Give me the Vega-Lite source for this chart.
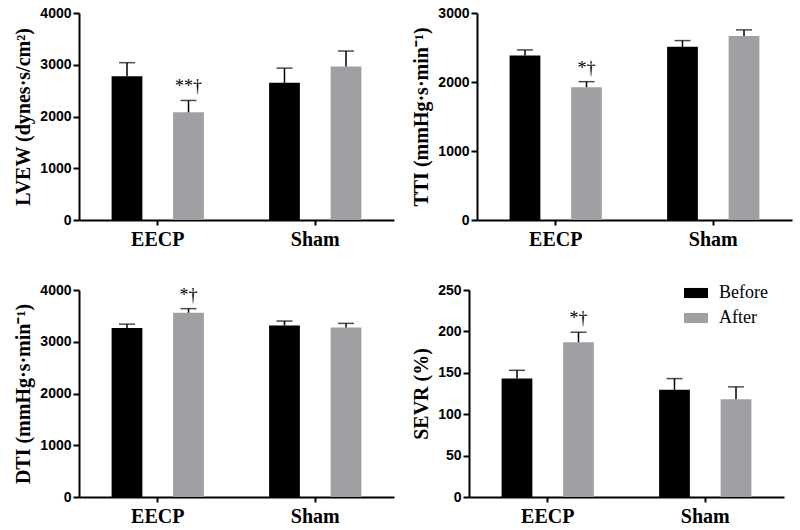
{
  "$schema": "https://vega.github.io/schema/vega-lite/v6.json",
  "background": "white",
  "padding": {"left": 13, "top": 6, "right": 2, "bottom": 0},
  "config": {
    "view": {"stroke": null},
    "axis": {
      "grid": false,
      "domainColor": "black",
      "domainWidth": 2,
      "tickColor": "black",
      "tickWidth": 2,
      "labelColor": "black",
      "titleColor": "black"
    },
    "axisY": {
      "labelFont": "Liberation Sans",
      "labelFontWeight": "bold",
      "labelFontSize": 14,
      "labelPadding": 2,
      "tickSize": 6,
      "format": "d",
      "titleFont": "Liberation Serif",
      "titleFontWeight": "bold",
      "titleFontSize": 20,
      "titlePadding": 6
    },
    "axisX": {
      "labelFont": "Liberation Serif",
      "labelFontWeight": "bold",
      "labelFontSize": 20,
      "labelAngle": 0,
      "labelPadding": 4,
      "tickSize": 5,
      "title": null
    }
  },
  "data": {
    "values": [
      {"panel": "LVE", "group": "EECP", "time": "Before", "value": 2780, "hi": 3040, "label": ""},
      {"panel": "LVE", "group": "EECP", "time": "After", "value": 2080, "hi": 2310, "label": "**†"},
      {"panel": "LVE", "group": "Sham", "time": "Before", "value": 2650, "hi": 2935, "label": ""},
      {"panel": "LVE", "group": "Sham", "time": "After", "value": 2965, "hi": 3265, "label": ""},
      {"panel": "TTI", "group": "EECP", "time": "Before", "value": 2385, "hi": 2465, "label": ""},
      {"panel": "TTI", "group": "EECP", "time": "After", "value": 1925, "hi": 2005, "label": "*†"},
      {"panel": "TTI", "group": "Sham", "time": "Before", "value": 2510, "hi": 2600, "label": ""},
      {"panel": "TTI", "group": "Sham", "time": "After", "value": 2665, "hi": 2755, "label": ""},
      {"panel": "DTI", "group": "EECP", "time": "Before", "value": 3265, "hi": 3340, "label": ""},
      {"panel": "DTI", "group": "EECP", "time": "After", "value": 3560, "hi": 3640, "label": "*†"},
      {"panel": "DTI", "group": "Sham", "time": "Before", "value": 3315, "hi": 3400, "label": ""},
      {"panel": "DTI", "group": "Sham", "time": "After", "value": 3275, "hi": 3355, "label": ""},
      {"panel": "SEVR", "group": "EECP", "time": "Before", "value": 143, "hi": 153, "label": ""},
      {"panel": "SEVR", "group": "EECP", "time": "After", "value": 187, "hi": 199, "label": "*†"},
      {"panel": "SEVR", "group": "Sham", "time": "Before", "value": 129.5, "hi": 143, "label": ""},
      {"panel": "SEVR", "group": "Sham", "time": "After", "value": 118, "hi": 133, "label": ""}
    ]
  },
  "resolve": {"scale": {"color": "independent"}, "legend": {"color": "independent"}},
  "spacing": 32,
  "vconcat": [
    {
      "spacing": 17,
      "resolve": {"scale": {"color": "independent"}, "legend": {"color": "independent"}},
      "hconcat": [
        {
          "width": 315, "height": 207,
          "transform": [{"filter": "datum.panel === 'LVE'"}],
          "encoding": {
            "x": {"field": "group", "type": "nominal", "sort": ["EECP", "Sham"], "scale": {"paddingInner": 0, "paddingOuter": 0}},
            "xOffset": {"field": "time", "type": "nominal", "sort": ["Before", "After"], "scale": {"paddingInner": 0.5, "paddingOuter": 0.53}}
          },
          "layer": [
            {"mark": {"type": "bar"}, "encoding": {
              "y": {"field": "value", "type": "quantitative", "title": "LVEW (dynes·s/cm²)", "scale": {"domain": [0, 4000], "nice": false}, "axis": {"values": [0, 1000, 2000, 3000, 4000]}},
              "color": {"field": "time", "type": "nominal", "scale": {"domain": ["Before", "After"], "range": ["#000000", "#a0a0a4"]}, "legend": null}}},
            {"mark": {"type": "rule", "color": "black", "strokeWidth": 1.5}, "encoding": {"y": {"field": "value", "type": "quantitative", "title": "LVEW (dynes·s/cm²)"}, "y2": {"field": "hi"}}},
            {"mark": {"type": "tick", "color": "black", "thickness": 1.5, "size": 16, "orient": "horizontal"}, "encoding": {"y": {"field": "hi", "type": "quantitative", "title": "LVEW (dynes·s/cm²)"}}},
            {"mark": {"type": "text", "font": "Liberation Serif", "fontSize": 18, "baseline": "alphabetic", "dy": -8, "color": "black"}, "encoding": {"y": {"field": "hi", "type": "quantitative", "title": "LVEW (dynes·s/cm²)"}, "text": {"field": "label"}}}
          ]
        },
        {
          "width": 315, "height": 207,
          "transform": [{"filter": "datum.panel === 'TTI'"}],
          "encoding": {
            "x": {"field": "group", "type": "nominal", "sort": ["EECP", "Sham"], "scale": {"paddingInner": 0, "paddingOuter": 0}},
            "xOffset": {"field": "time", "type": "nominal", "sort": ["Before", "After"], "scale": {"paddingInner": 0.5, "paddingOuter": 0.53}}
          },
          "layer": [
            {"mark": {"type": "bar"}, "encoding": {
              "y": {"field": "value", "type": "quantitative", "title": "TTI (mmHg·s·min⁻¹)", "scale": {"domain": [0, 3000], "nice": false}, "axis": {"values": [0, 1000, 2000, 3000]}},
              "color": {"field": "time", "type": "nominal", "scale": {"domain": ["Before", "After"], "range": ["#000000", "#a0a0a4"]}, "legend": null}}},
            {"mark": {"type": "rule", "color": "black", "strokeWidth": 1.5}, "encoding": {"y": {"field": "value", "type": "quantitative", "title": "TTI (mmHg·s·min⁻¹)"}, "y2": {"field": "hi"}}},
            {"mark": {"type": "tick", "color": "black", "thickness": 1.5, "size": 16, "orient": "horizontal"}, "encoding": {"y": {"field": "hi", "type": "quantitative", "title": "TTI (mmHg·s·min⁻¹)"}}},
            {"mark": {"type": "text", "font": "Liberation Serif", "fontSize": 18, "baseline": "alphabetic", "dy": -8, "color": "black"}, "encoding": {"y": {"field": "hi", "type": "quantitative", "title": "TTI (mmHg·s·min⁻¹)"}, "text": {"field": "label"}}}
          ]
        }
      ]
    },
    {
      "spacing": 17,
      "resolve": {"scale": {"color": "independent"}, "legend": {"color": "independent"}},
      "hconcat": [
        {
          "width": 315, "height": 207,
          "transform": [{"filter": "datum.panel === 'DTI'"}],
          "encoding": {
            "x": {"field": "group", "type": "nominal", "sort": ["EECP", "Sham"], "scale": {"paddingInner": 0, "paddingOuter": 0}},
            "xOffset": {"field": "time", "type": "nominal", "sort": ["Before", "After"], "scale": {"paddingInner": 0.5, "paddingOuter": 0.53}}
          },
          "layer": [
            {"mark": {"type": "bar"}, "encoding": {
              "y": {"field": "value", "type": "quantitative", "title": "DTI (mmHg·s·min⁻¹)", "scale": {"domain": [0, 4000], "nice": false}, "axis": {"values": [0, 1000, 2000, 3000, 4000]}},
              "color": {"field": "time", "type": "nominal", "scale": {"domain": ["Before", "After"], "range": ["#000000", "#a0a0a4"]}, "legend": null}}},
            {"mark": {"type": "rule", "color": "black", "strokeWidth": 1.5}, "encoding": {"y": {"field": "value", "type": "quantitative", "title": "DTI (mmHg·s·min⁻¹)"}, "y2": {"field": "hi"}}},
            {"mark": {"type": "tick", "color": "black", "thickness": 1.5, "size": 16, "orient": "horizontal"}, "encoding": {"y": {"field": "hi", "type": "quantitative", "title": "DTI (mmHg·s·min⁻¹)"}}},
            {"mark": {"type": "text", "font": "Liberation Serif", "fontSize": 18, "baseline": "alphabetic", "dy": -8, "color": "black"}, "encoding": {"y": {"field": "hi", "type": "quantitative", "title": "DTI (mmHg·s·min⁻¹)"}, "text": {"field": "label"}}}
          ]
        },
        {
          "width": 315, "height": 207,
          "transform": [{"filter": "datum.panel === 'SEVR'"}],
          "encoding": {
            "x": {"field": "group", "type": "nominal", "sort": ["EECP", "Sham"], "scale": {"paddingInner": 0, "paddingOuter": 0}},
            "xOffset": {"field": "time", "type": "nominal", "sort": ["Before", "After"], "scale": {"paddingInner": 0.5, "paddingOuter": 0.53}}
          },
          "layer": [
            {"mark": {"type": "bar"}, "encoding": {
              "y": {"field": "value", "type": "quantitative", "title": "SEVR (%)", "scale": {"domain": [0, 250], "nice": false}, "axis": {"values": [0, 50, 100, 150, 200, 250]}},
              "color": {"field": "time", "type": "nominal", "title": null, "scale": {"domain": ["Before", "After"], "range": ["#000000", "#a0a0a4"]},
                "legend": {"orient": "none", "legendX": 215, "legendY": -9, "direction": "vertical", "symbolType": "M-1,-0.42H1V0.42H-1Z", "symbolSize": 576, "symbolStrokeWidth": 0, "labelFont": "Liberation Serif", "labelFontSize": 18, "labelColor": "black", "labelOffset": 11, "rowPadding": 4, "padding": 0}}}},
            {"mark": {"type": "rule", "color": "black", "strokeWidth": 1.5}, "encoding": {"y": {"field": "value", "type": "quantitative", "title": "SEVR (%)"}, "y2": {"field": "hi"}}},
            {"mark": {"type": "tick", "color": "black", "thickness": 1.5, "size": 16, "orient": "horizontal"}, "encoding": {"y": {"field": "hi", "type": "quantitative", "title": "SEVR (%)"}}},
            {"mark": {"type": "text", "font": "Liberation Serif", "fontSize": 18, "baseline": "alphabetic", "dy": -8, "color": "black"}, "encoding": {"y": {"field": "hi", "type": "quantitative", "title": "SEVR (%)"}, "text": {"field": "label"}}}
          ]
        }
      ]
    }
  ]
}
